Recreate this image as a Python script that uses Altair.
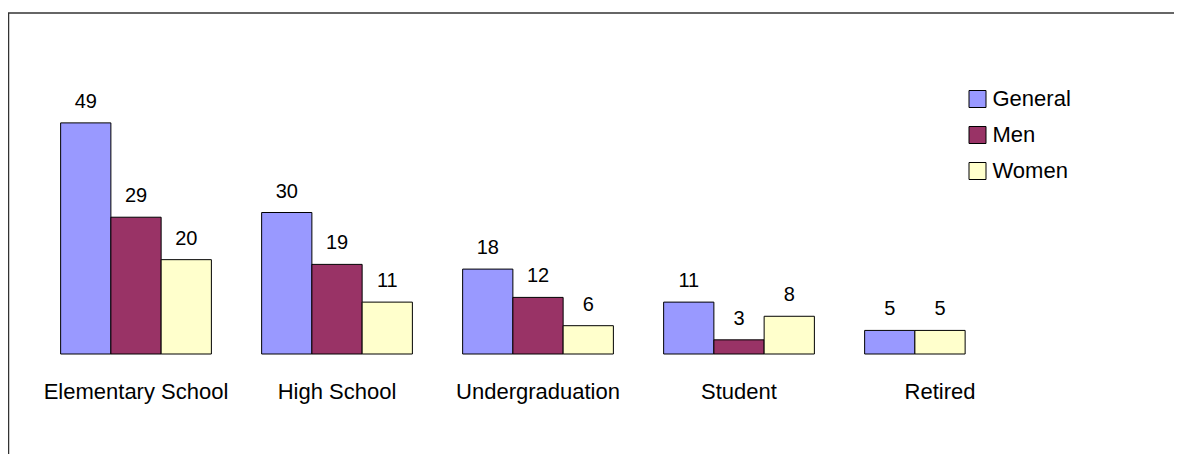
import altair as alt
import pandas as pd

categories = ["Elementary School", "High School", "Undergraduation", "Student", "Retired"]
series = ["General", "Men", "Women"]
general = [49, 30, 18, 11, 5]
men = [29, 19, 12, 3, None]
women = [20, 11, 6, 8, 5]
colors = ["#9999FF", "#993366", "#FFFFCC"]

rows = []
for i, cat in enumerate(categories):
    slot = 0
    for s, vals in zip(series, [general, men, women]):
        v = vals[i]
        if v is None:
            continue
        rows.append({"category": cat, "series": s, "value": v, "slot": slot})
        slot += 1
df = pd.DataFrame(rows)

FONT = "Liberation Sans"

x = alt.X("category:N", sort=categories,
          scale=alt.Scale(paddingInner=0.25, paddingOuter=0.125),
          axis=alt.Axis(title=None, domain=False, ticks=False, labelAngle=0,
                        labelFontSize=22, labelFont=FONT, labelColor="black",
                        labelPadding=27, labelLimit=0))
xo = alt.XOffset("slot:O", scale=alt.Scale(domain=[0, 1, 2], paddingInner=0, paddingOuter=0))
y = alt.Y("value:Q", scale=alt.Scale(domain=[0, 60], nice=False), axis=None)

bars = alt.Chart(df).mark_bar(stroke="black", strokeWidth=1, opacity=1).encode(
    x=x, xOffset=xo, y=y,
    color=alt.Color("series:N", scale=alt.Scale(domain=series, range=colors),
                    legend=alt.Legend(title=None, orient="none", legendX=931, legendY=17,
                                      labelFontSize=22, labelFont=FONT, labelColor="black",
                                      symbolType="square", symbolSize=289,
                                      symbolStrokeColor="black", symbolStrokeWidth=1,
                                      symbolOpacity=1, rowPadding=14, labelOffset=4)),
)

labels = alt.Chart(df).mark_text(font=FONT, fontSize=20, color="black",
                                 baseline="alphabetic", dy=-15).encode(
    x=x, xOffset=xo, y=y, text=alt.Text("value:Q"),
)

frame_df = pd.DataFrame({"k": [0]})
left_line = alt.Chart(frame_df).mark_rule(color="#333333", strokeWidth=1.5).encode(
    x=alt.value(-27), y=alt.value(-58), y2=alt.value(400))
top_line = alt.Chart(frame_df).mark_rule(color="#333333", strokeWidth=1.5).encode(
    x=alt.value(-28), x2=alt.value(1150), y=alt.value(-58))

chart = alt.layer(bars, labels, left_line, top_line).properties(
    width=1005, height=283,
    autosize=alt.AutoSizeParams(type="none"),
    padding={"left": 27.5, "top": 63, "right": 133.5, "bottom": 100},
    background="white",
).configure_view(stroke=None)

chart.save("out.html", embed_options={"renderer": "svg", "actions": False})
